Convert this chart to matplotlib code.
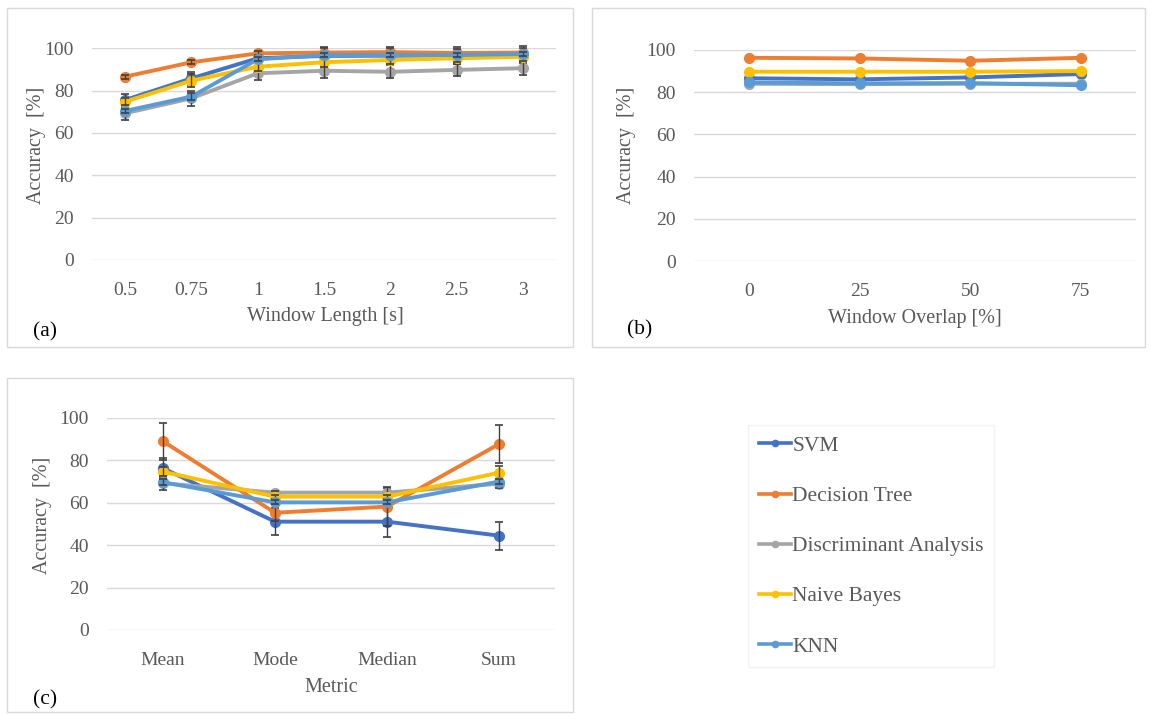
import numpy as np
import matplotlib
matplotlib.use("Agg")
import matplotlib.pyplot as plt
from matplotlib.patches import Rectangle

plt.rcParams['font.family'] = ['Liberation Serif', 'DejaVu Serif']

# series names and colours (Excel default palette)
names = ['SVM', 'Decision Tree', 'Discriminant Analysis', 'Naive Bayes', 'KNN']
colors = ['#4472C4', '#ED7D31', '#A5A5A5', '#FFC000', '#5B9BD5']

# (a) window length
win_len = ['0.5', '0.75', '1', '1.5', '2', '2.5', '3']
acc_a = {
    'SVM': [75.6, 85.8, 95.3, 96.4, 96.5, 96.5, 97.0],
    'Decision Tree': [86.6, 93.4, 97.6, 98.0, 98.2, 97.8, 98.0],
    'Discriminant Analysis': [69.3, 76.4, 88.2, 89.4, 88.9, 89.8, 90.6],
    'Naive Bayes': [74.8, 84.7, 91.3, 93.4, 94.5, 95.3, 96.0],
    'KNN': [70.4, 77.2, 94.8, 96.8, 96.8, 96.8, 97.3],
}
err_a = {
    'SVM': [3, 3, 2, 4, 4, 4, 4],
    'Decision Tree': [1, 1, 1, 2, 2, 2, 2],
    'Discriminant Analysis': [3, 3.5, 3, 3.5, 3, 3, 3],
    'Naive Bayes': [1.5, 3, 2, 2, 2, 2, 2],
    'KNN': [1, 1.5, 1, 1, 1, 1, 1],
}

# (b) window overlap
overlap = ['0', '25', '50', '75']
acc_b = {
    'SVM': [86.6, 86.1, 87.0, 88.6],
    'Decision Tree': [96.3, 96.0, 94.9, 96.3],
    'Discriminant Analysis': [84.0, 83.8, 84.0, 84.0],
    'Naive Bayes': [89.7, 89.7, 89.7, 90.0],
    'KNN': [84.6, 84.2, 84.3, 83.3],
}

# (c) metric
metrics = ['Mean', 'Mode', 'Median', 'Sum']
acc_c = {
    'SVM': [76.3, 51.1, 51.1, 44.5],
    'Decision Tree': [89.0, 55.3, 58.2, 87.7],
    'Discriminant Analysis': [69.2, 64.8, 64.8, 69.0],
    'Naive Bayes': [74.7, 62.9, 62.9, 74.2],
    'KNN': [69.7, 60.2, 60.2, 70.0],
}
err_c = {
    'SVM': [5, 6.5, 7, 6.6],
    'Decision Tree': [8.8, 4, 9, 9],
    'Discriminant Analysis': [3, 1, 2.5, 2],
    'Naive Bayes': [2, 1, 1, 3],
    'KNN': [1.5, 1, 1, 1],
}

W, H = 1151, 714
fig = plt.figure(figsize=(W / 100, H / 100), dpi=100)
fig.patch.set_facecolor('white')

GRID = '#D9D9D9'
TXT = '#595959'


def px_axes(l, t, r, b):
    return fig.add_axes([l / W, 1 - b / H, (r - l) / W, (b - t) / H])


def box(l, t, r, b, ec=GRID):
    fig.patches.append(Rectangle((l / W, 1 - b / H), (r - l) / W, (b - t) / H,
                                 transform=fig.transFigure, fill=False,
                                 ec=ec, lw=1.0))


def ftext(x, y, s, **kw):
    fig.text(x / W, 1 - y / H, s, **kw)


def panel(ax, cats, data, errs=None):
    x = np.arange(len(cats))
    for i, (name, c) in enumerate(zip(names, colors)):
        ax.plot(x, data[name], '-o', color=c, lw=2.8, ms=7,
                label=name, zorder=3 + i, clip_on=False)
        if errs is not None:
            ax.errorbar(x, data[name], yerr=errs[name], fmt='none',
                        ecolor='#404040', elinewidth=1.0, capsize=3,
                        capthick=1.2, zorder=3 + i, clip_on=False)
    ax.set_xlim(-0.5, len(cats) - 0.5)
    ax.set_ylim(0, 100)
    ax.set_yticks(np.arange(0, 101, 20))
    ax.set_xticks(x)
    ax.set_xticklabels(cats)
    ax.yaxis.grid(True, color=GRID, lw=1.0)
    ax.set_axisbelow(True)
    for s in ax.spines.values():
        s.set_visible(False)
    ax.tick_params(length=0, labelsize=14, colors=TXT)
    ax.tick_params(axis='y', pad=13)
    ax.tick_params(axis='x', pad=16)


# panel frames
box(7, 8, 573, 347)
box(592, 8, 1145, 347)
box(7, 378, 573, 712)

ax_a = px_axes(92, 48.3, 556, 260)
panel(ax_a, win_len, acc_a, err_a)
ax_b = px_axes(694, 50, 1136, 261)
panel(ax_b, overlap, acc_b)
ax_c = px_axes(107, 418, 555, 630)
panel(ax_c, metrics, acc_c, err_c)

lab = dict(color=TXT, fontsize=14.5, ha='center', va='center')
ftext(36, 145, 'Accuracy  [%]', rotation=90, **lab)
ftext(626, 145, 'Accuracy  [%]', rotation=90, **lab)
ftext(42, 515, 'Accuracy  [%]', rotation=90, **lab)
ftext(325, 316, 'Window Length [s]', **lab)
ftext(915, 318, 'Window Overlap [%]', **lab)
ftext(331, 687, 'Metric', **lab)

tag = dict(color='black', fontsize=15.5, ha='center', va='center')
ftext(45, 332, '(a)', **tag)
ftext(640, 330, '(b)', **tag)
ftext(45, 700, '(c)', **tag)

# legend
h, l = ax_b.get_legend_handles_labels()
leg = fig.legend(h, l, loc='upper left',
                 bbox_to_anchor=(748 / W, 1 - 425 / H),
                 frameon=True, fancybox=False, fontsize=15.5,
                 labelspacing=1.4, handlelength=1.5, handletextpad=0.05,
                 borderpad=0.5, borderaxespad=0)
leg.get_frame().set_edgecolor('#F0F0F0')
leg.get_frame().set_linewidth(1.0)
for t in leg.get_texts():
    t.set_color(TXT)
for ln in leg.get_lines():
    ln.set_markersize(4.5)
    ln.set_linewidth(2.6)

fig.savefig('out.png', dpi=100)
